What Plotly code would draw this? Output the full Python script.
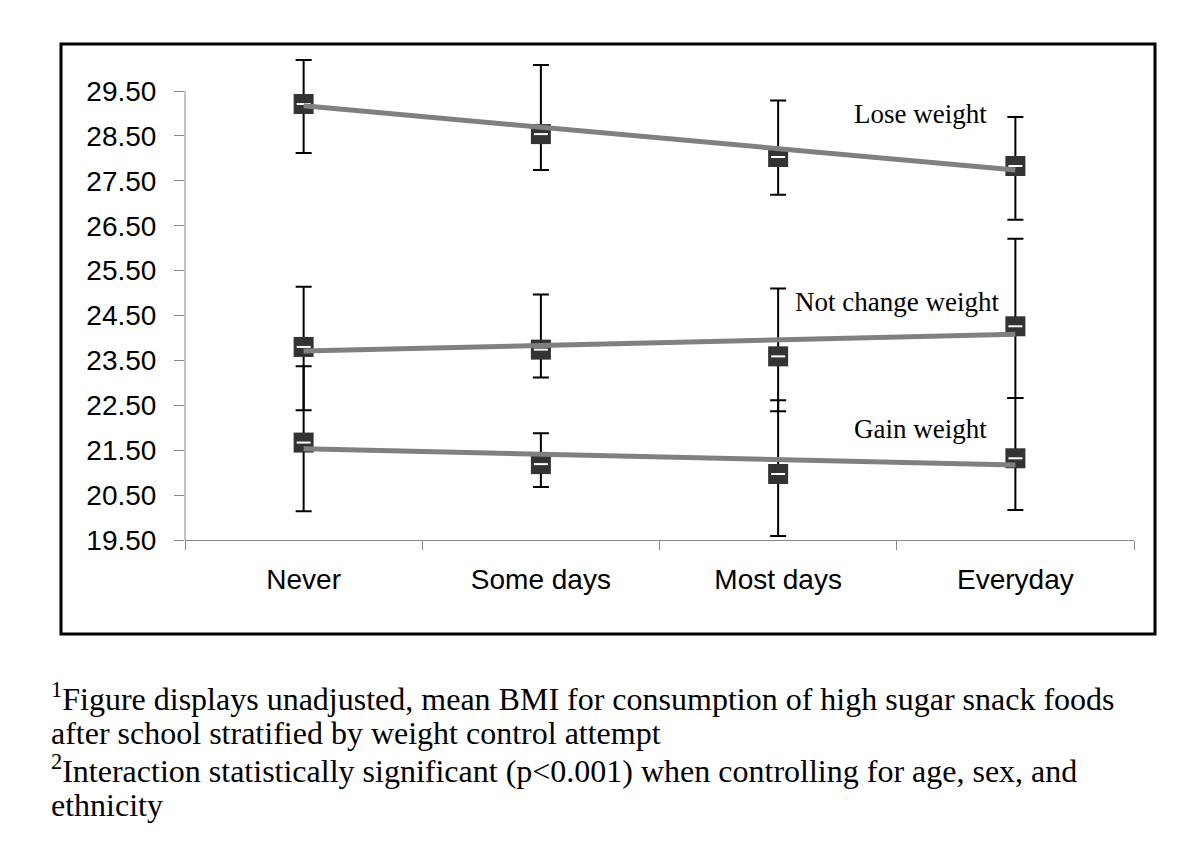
import plotly.graph_objects as go

# categories (after-school high sugar snack consumption)
categories = ['Never', 'Some days', 'Most days', 'Everyday']

# mean BMI and error bar ends, per weight control attempt
lose_mean = [29.21, 28.54, 28.03, 27.83]
lose_hi = [30.19, 30.08, 29.29, 28.92]
lose_lo = [28.12, 27.74, 27.19, 26.63]

notchange_mean = [23.80, 23.74, 23.59, 24.26]
notchange_hi = [25.14, 24.97, 25.10, 26.21]
notchange_lo = [22.39, 23.12, 22.37, 22.66]

gain_mean = [21.67, 21.19, 20.97, 21.32]
gain_hi = [23.37, 21.88, 22.61, 22.66]
gain_lo = [20.14, 20.68, 19.59, 20.17]

# linear trend lines (Never -> Everyday)
trend_x = ['Never', 'Everyday']
lose_trend = [29.17, 27.74]
notchange_trend = [23.71, 24.08]
gain_trend = [21.53, 21.17]

ytick_vals = [19.5, 20.5, 21.5, 22.5, 23.5, 24.5, 25.5, 26.5, 27.5, 28.5, 29.5]

series_labels = ['Lose weight', 'Not change weight', 'Gain weight']

footnote_lines = [
    '<sup>1</sup>Figure displays unadjusted, mean BMI for consumption of high sugar snack foods',
    'after school stratified by weight control attempt',
    '<sup>2</sup>Interaction statistically significant (p&lt;0.001) when controlling for age, sex, and',
    'ethnicity',
]

W, H = 1200, 849
L, R, T, B = 177, 74, 47, 317
PW, PH = W - L - R, H - T - B
PX_PER_UNIT = 44.9
y_top = 19.5 + PH / PX_PER_UNIT


def px(x):
    return (x - L) / PW


def py(y):
    return (H - B - y) / PH


fig = go.Figure()

groups = [
    (lose_mean, lose_hi, lose_lo, lose_trend),
    (notchange_mean, notchange_hi, notchange_lo, notchange_trend),
    (gain_mean, gain_hi, gain_lo, gain_trend),
]

for mean, hi, lo, trend in groups:
    fig.add_trace(go.Scatter(
        x=categories, y=mean, mode='markers',
        marker=dict(symbol='square', size=20, color='#333333', line=dict(width=0)),
        error_y=dict(
            type='data', symmetric=False,
            array=[h - m for h, m in zip(hi, mean)],
            arrayminus=[m - l for m, l in zip(mean, lo)],
            color='black', thickness=2, width=8,
        ),
        cliponaxis=False, hoverinfo='skip',
    ))
    fig.add_trace(go.Scatter(
        x=categories, y=mean, mode='markers',
        marker=dict(symbol='line-ew', size=10, line=dict(width=2, color='white')),
        cliponaxis=False, hoverinfo='skip',
    ))
    fig.add_trace(go.Scatter(
        x=trend_x, y=trend, mode='lines',
        line=dict(color='#808080', width=5),
        hoverinfo='skip',
    ))

# series labels
label_pos = [(912, 106), (889, 294), (912, 421)]
for text, (lx, ly) in zip(series_labels, label_pos):
    fig.add_annotation(
        x=px(lx), y=py(ly), xref='paper', yref='paper',
        text=text, showarrow=False, xanchor='center', yanchor='middle',
        font=dict(family='Liberation Serif', size=27, color='black'),
    )

# footnotes, one line each
for i, line in enumerate(footnote_lines):
    fig.add_annotation(
        x=px(41), y=py(689 + 36 * i), xref='paper', yref='paper',
        text=line, showarrow=False, xanchor='left', yanchor='middle', align='left',
        font=dict(family='Liberation Serif', size=32, color='black'),
    )

# outer frame
fig.add_shape(
    type='rect', xref='paper', yref='paper',
    x0=px(53), x1=px(1147), y0=py(626), y1=py(36),
    line=dict(color='black', width=3), fillcolor='rgba(0,0,0,0)', layer='below',
)
# y axis line only up to the top tick
fig.add_shape(
    type='line', xref='paper', yref='y',
    x0=0, x1=0, y0=19.5, y1=29.5,
    line=dict(color='#888888', width=1),
)

fig.update_layout(
    width=W, height=H,
    margin=dict(l=L, r=R, t=T, b=B),
    paper_bgcolor='white', plot_bgcolor='white',
    showlegend=False,
    xaxis=dict(
        type='category', range=[-0.5, 3.5], tickson='boundaries',
        ticks='outside', ticklen=9, tickcolor='#888888',
        showline=True, linecolor='#888888', linewidth=1,
        showgrid=False, zeroline=False,
        tickfont=dict(family='Liberation Sans', size=28, color='black'),
        ticklabelstandoff=14,
    ),
    yaxis=dict(
        range=[19.5, y_top], tickvals=ytick_vals,
        ticktext=['%.2f' % v for v in ytick_vals],
        ticks='outside', ticklen=10, tickcolor='#888888',
        showline=False, showgrid=False, zeroline=False,
        tickfont=dict(family='Liberation Sans', size=28, color='black'),
        ticklabelstandoff=12,
    ),
)

fig.write_html('out.html')
